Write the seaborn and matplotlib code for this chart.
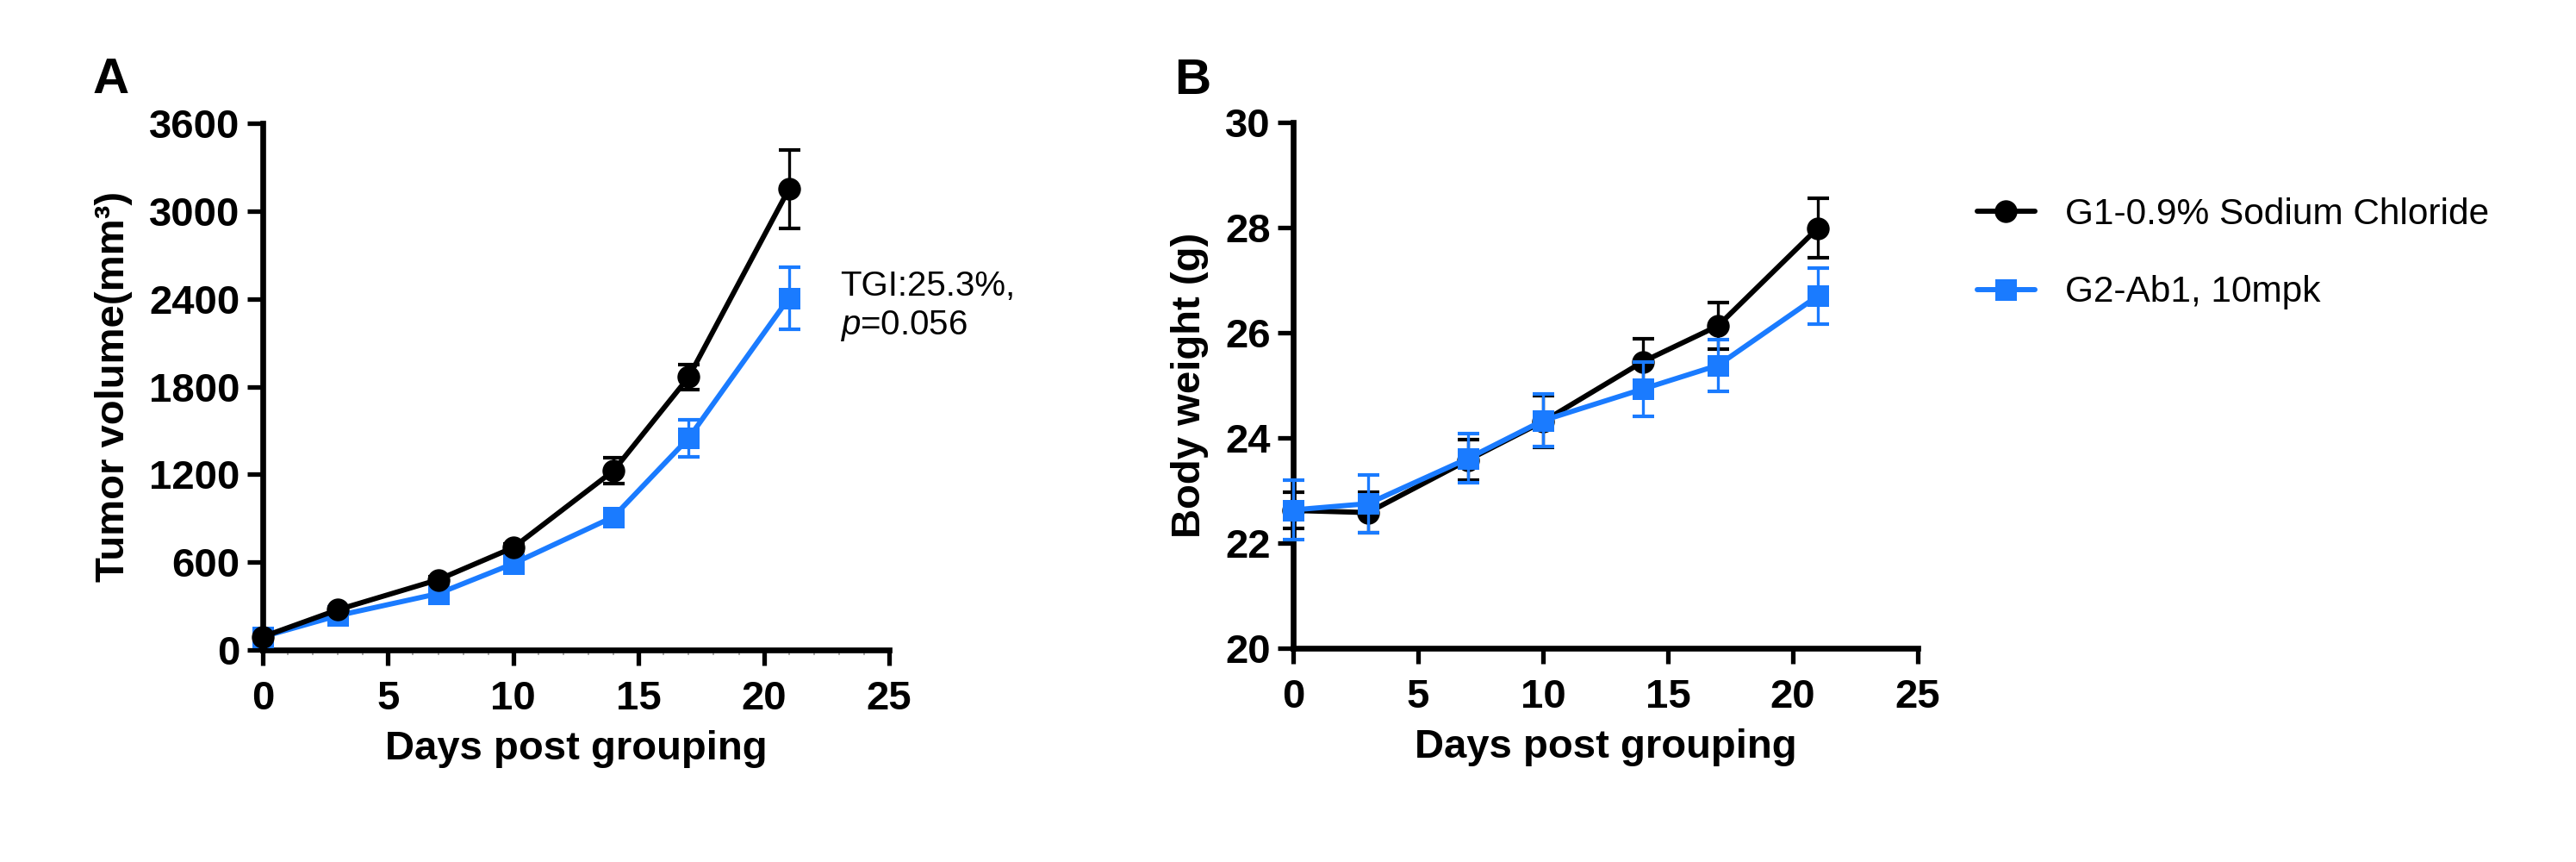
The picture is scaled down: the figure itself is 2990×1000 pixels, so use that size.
import numpy as np
import pandas as pd
import matplotlib
matplotlib.use("Agg")
import matplotlib.pyplot as plt
from matplotlib.ticker import MultipleLocator
import seaborn as sns

# ---------------- data ----------------
days = [0, 3, 7, 10, 14, 17, 21]
group_labels = ["G1-0.9% Sodium Chloride", "G2-Ab1, 10mpk"]

tumor_g1 = [90, 275, 480, 700, 1225, 1865, 3150]
tumor_g1_sem = [12, 15, 20, 25, 90, 88, 266]
tumor_g2 = [90, 235, 385, 590, 910, 1448, 2405]
tumor_g2_sem = [12, 15, 20, 25, 45, 127, 213]

weight_g1 = [22.62, 22.58, 23.58, 24.31, 25.45, 26.13, 27.99]
weight_g1_sem = [0.34, 0.39, 0.38, 0.49, 0.43, 0.44, 0.56]
weight_g2 = [22.63, 22.75, 23.61, 24.33, 24.93, 25.38, 26.70]
weight_g2_sem = [0.57, 0.55, 0.47, 0.50, 0.52, 0.49, 0.53]

tumor_yticks = [0, 600, 1200, 1800, 2400, 3000, 3600]
weight_yticks = [20, 22, 24, 26, 28, 30]
xticks = [0, 5, 10, 15, 20, 25]

tgi_line1 = "TGI:25.3%,"
tgi_line2 = r"$\it{p}$=0.056"

# ---------------- style ----------------
sns.set_style("ticks")
plt.rcParams["font.family"] = ["Liberation Sans", "DejaVu Sans"]
plt.rcParams["mathtext.fontset"] = "custom"
plt.rcParams["mathtext.rm"] = "Liberation Sans"
plt.rcParams["mathtext.it"] = "Liberation Sans:italic"
plt.rcParams["mathtext.bf"] = "Liberation Sans:bold"
for key in ["text.color", "axes.labelcolor", "xtick.color", "ytick.color",
            "axes.edgecolor", "xtick.labelcolor", "ytick.labelcolor"]:
    plt.rcParams[key] = "black"

BLACK = "#000000"
BLUE = "#1A7BFF"
colors = [BLACK, BLUE]
markers = ["o", "s"]
msizes = [19, 18]

fig = plt.figure(figsize=(29.9, 10), dpi=100)
W, H = 2990, 1000
axA = fig.add_axes([305 / W, 1 - 754 / H, 727 / W, 611 / H])
axB = fig.add_axes([1501 / W, 1 - 752 / H, 725 / W, 610 / H])


def draw_series(ax, x, y, err, idx, z):
    df = pd.DataFrame({"day": x, "val": y})
    sns.lineplot(data=df, x="day", y="val", ax=ax, color=colors[idx],
                 marker=markers[idx], markersize=msizes[idx],
                 markeredgewidth=0, linewidth=4.3, label=group_labels[idx],
                 errorbar=None, zorder=z, clip_on=False)
    ax.errorbar(x, y, yerr=err, fmt="none", ecolor=colors[idx],
                elinewidth=2.4, capsize=9, capthick=3, zorder=z - 0.5,
                clip_on=False)


# Panel A: blue under black
draw_series(axA, days, tumor_g2, tumor_g2_sem, 1, 3)
draw_series(axA, days, tumor_g1, tumor_g1_sem, 0, 5)
# Panel B: black under blue
draw_series(axB, days, weight_g1, weight_g1_sem, 0, 3)
draw_series(axB, days, weight_g2, weight_g2_sem, 1, 5)

for ax, yt, ylab in [(axA, tumor_yticks, "Tumor volume(mm³)"),
                     (axB, weight_yticks, "Body weight (g)")]:
    ax.set_xlim(0, 25)
    ax.set_ylim(yt[0], yt[-1])
    ax.set_xticks(xticks)
    ax.set_yticks(yt)
    sns.despine(ax=ax)
    for s in ["left", "bottom"]:
        ax.spines[s].set_linewidth(4.8)
        ax.spines[s].set_color("black")
    ax.tick_params(axis="both", which="major", length=13, width=3.8,
                   color="black", labelcolor="black", labelsize=34)
    ax.tick_params(axis="x", which="major", pad=12)
    ax.tick_params(axis="y", which="major", pad=6)
    for lab in ax.get_xticklabels() + ax.get_yticklabels():
        lab.set_fontweight("bold")
    ax.set_xlabel("Days post grouping", fontsize=34, fontweight="bold",
                  labelpad=10, color="black")
    ax.set_ylabel(ylab, fontsize=34, fontweight="bold", labelpad=14,
                  color="black")
    ax.get_legend().remove()
    ax.set_facecolor("white")

axA.xaxis.set_minor_locator(MultipleLocator(1))
axA.tick_params(axis="x", which="minor", length=4, width=1.2,
                color="#9a9a9a")

axA.text(23.05, 2424, tgi_line1, fontsize=29, ha="left", va="baseline",
         color="black")
axA.text(23.05, 2159, tgi_line2, fontsize=29, ha="left", va="baseline",
         color="black")

fig.text(108 / W, 1 - 108 / H, "A", fontsize=42, fontweight="bold",
         ha="left", va="baseline", color="black")
fig.text(1363 / W, 1 - 109 / H, "B", fontsize=42, fontweight="bold",
         ha="left", va="baseline", color="black")

handles, labels = axB.get_legend_handles_labels()
order = [labels.index(g) for g in group_labels]
fig.legend([handles[i] for i in order], [labels[i] for i in order],
           loc="center left", bbox_to_anchor=(2295 / W, 1 - 294 / H),
           frameon=False, fontsize=30.5, borderpad=0, borderaxespad=0,
           handlelength=1.58, handletextpad=0.83, labelspacing=1.2,
           labelcolor="black")

fig.savefig("out.png", dpi=100, facecolor="white")
